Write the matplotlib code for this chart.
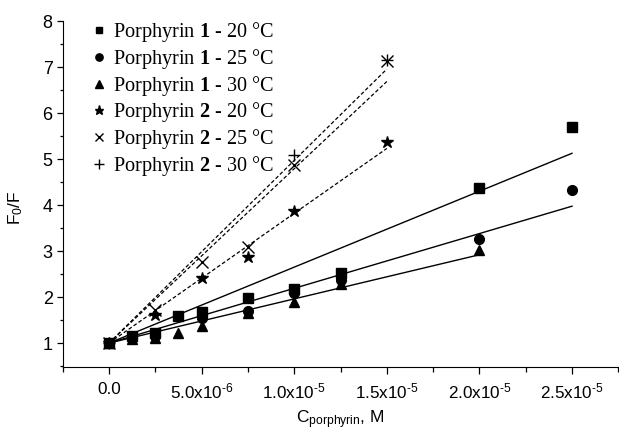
"""
Stern-Volmer plots, porphyrins 1 and 2
"""

import numpy as np
import matplotlib
matplotlib.use("Agg")
import matplotlib.pyplot as plt
from matplotlib.ticker import MultipleLocator

plt.rcParams['font.family'] = ['Liberation Sans', 'DejaVu Sans']
plt.rcParams['mathtext.fontset'] = 'custom'
plt.rcParams['mathtext.rm'] = 'Liberation Sans'
plt.rcParams['mathtext.it'] = 'Liberation Sans:italic'
plt.rcParams['mathtext.bf'] = 'Liberation Serif:bold'

#############################
####### data ################

# concentrations in M
x_p1 = [0, 1.25e-6, 2.5e-6, 3.75e-6, 5e-6, 7.5e-6, 1e-5, 1.25e-5, 2e-5, 2.5e-5]
p1_20 = [1.0, 1.16, 1.22, 1.59, 1.67, 1.98, 2.18, 2.52, 4.37, 5.70]

x_p1_25 = [0, 1.25e-6, 2.5e-6, 5e-6, 7.5e-6, 1e-5, 1.25e-5, 2e-5, 2.5e-5]
p1_25 = [1.0, 1.12, 1.15, 1.55, 1.70, 2.08, 2.38, 3.27, 4.32]

x_p1_30 = [0, 1.25e-6, 2.5e-6, 3.75e-6, 5e-6, 7.5e-6, 1e-5, 1.25e-5, 2e-5]
p1_30 = [1.0, 1.08, 1.10, 1.21, 1.38, 1.65, 1.90, 2.28, 3.03]

x_p2 = [0, 2.5e-6, 5e-6, 7.5e-6, 1e-5, 1.5e-5]
p2_20 = [1.0, 1.60, 2.41, 2.86, 3.86, 5.36]
p2_25 = [1.0, 1.71, 2.77, 3.08, 4.88, 7.13]

x_p2_30 = [0, 1e-5, 1.5e-5]
p2_30 = [1.0, 5.09, 7.15]

# linear fits: F0/F = intercept + K*C, drawn from 0 to xmax
fit_K = [1.65e5, 1.19e5, 0.96e5, 2.82e5, 3.79e5, 3.97e5]
fit_b = [1.0, 1.0, 1.0, 1.0, 1.0, 1.0]
fit_xmax = [2.5e-5, 2.5e-5, 2e-5, 1.5e-5, 1.5e-5, 1.5e-5]
fit_style = ['-', '-', '-', '--', '--', '--']

xtick_vals = [0, 5e-6, 1e-5, 1.5e-5, 2e-5, 2.5e-5]
xtick_labels = ["0.0", r"5.0x10$^{\text{-6}}$", r"1.0x10$^{\text{-5}}$", r"1.5x10$^{\text{-5}}$",
                r"2.0x10$^{\text{-5}}$", r"2.5x10$^{\text{-5}}$"]

labels = [r"Porphyrin $\mathbf{1}$ - 20 °C", r"Porphyrin $\mathbf{1}$ - 25 °C",
          r"Porphyrin $\mathbf{1}$ - 30 °C", r"Porphyrin $\mathbf{2}$ - 20 °C",
          r"Porphyrin $\mathbf{2}$ - 25 °C", r"Porphyrin $\mathbf{2}$ - 30 °C"]

#############################

fig = plt.figure(figsize=(6.19, 4.34), dpi=100)
ax = fig.add_axes([0.1013, 0.1544, 0.8976, 0.7972])

# fit lines
for K, b, xm, ls in zip(fit_K, fit_b, fit_xmax, fit_style):
    xx = np.array([0, xm])
    if ls == '--':
        ax.plot(xx, b + K * xx, color='k', lw=0.9, dashes=(3, 1.8))
    else:
        ax.plot(xx, b + K * xx, color='k', lw=1.0)

# data points
ax.plot(x_p1, p1_20, 's', color='k', ms=6.5, label=labels[0])
ax.plot(x_p1_25, p1_25, 'o', color='k', ms=7, label=labels[1])
ax.plot(x_p1_30, p1_30, '^', color='k', ms=7.5, label=labels[2])
ax.plot(x_p2, p2_20, '*', color='k', ms=9, label=labels[3])
ax.plot(x_p2, p2_25, 'x', color='k', ms=8.5, mew=1.0, label=labels[4])
ax.plot(x_p2_30, p2_30, '+', color='k', ms=9, mew=1.0, label=labels[5])

ax.set_xlim(-2.5e-6, 2.75e-5)
ax.set_ylim(0.48, 8)

ax.set_xticks(xtick_vals, xtick_labels)
ax.xaxis.set_minor_locator(MultipleLocator(2.5e-6))
ax.yaxis.set_major_locator(MultipleLocator(1))
ax.yaxis.set_minor_locator(MultipleLocator(0.5))

for s in ['top', 'right']:
    ax.spines[s].set_visible(False)
ax.tick_params(axis='x', which='major', direction='out', length=5, width=0.9,
               labelsize=12.3, pad=5.5)
ax.tick_params(axis='x', which='minor', direction='out', length=3.6, width=0.9)
ax.tick_params(axis='y', which='major', direction='out', length=4, width=0.9,
               labelsize=13, pad=3.2)
ax.tick_params(axis='y', which='minor', direction='out', length=2.5, width=0.9)

ax.set_xlabel(r"C$_{\mathrm{porphyrin}}$, M", fontsize=12.5)
ax.xaxis.set_label_coords(0.5, -0.12)
ax.set_ylabel(r"F$_0$/F", fontsize=12.5)
ax.yaxis.set_label_coords(-0.068, 0.461)

ax.legend(loc='upper left', bbox_to_anchor=(0.038, 1.025), frameon=False,
          prop={'family': 'Liberation Serif', 'size': 14.6},
          markerscale=0.75, handlelength=0.7, handletextpad=0.32,
          labelspacing=0.13, borderaxespad=0)

fig.savefig("out.png", dpi=100)
